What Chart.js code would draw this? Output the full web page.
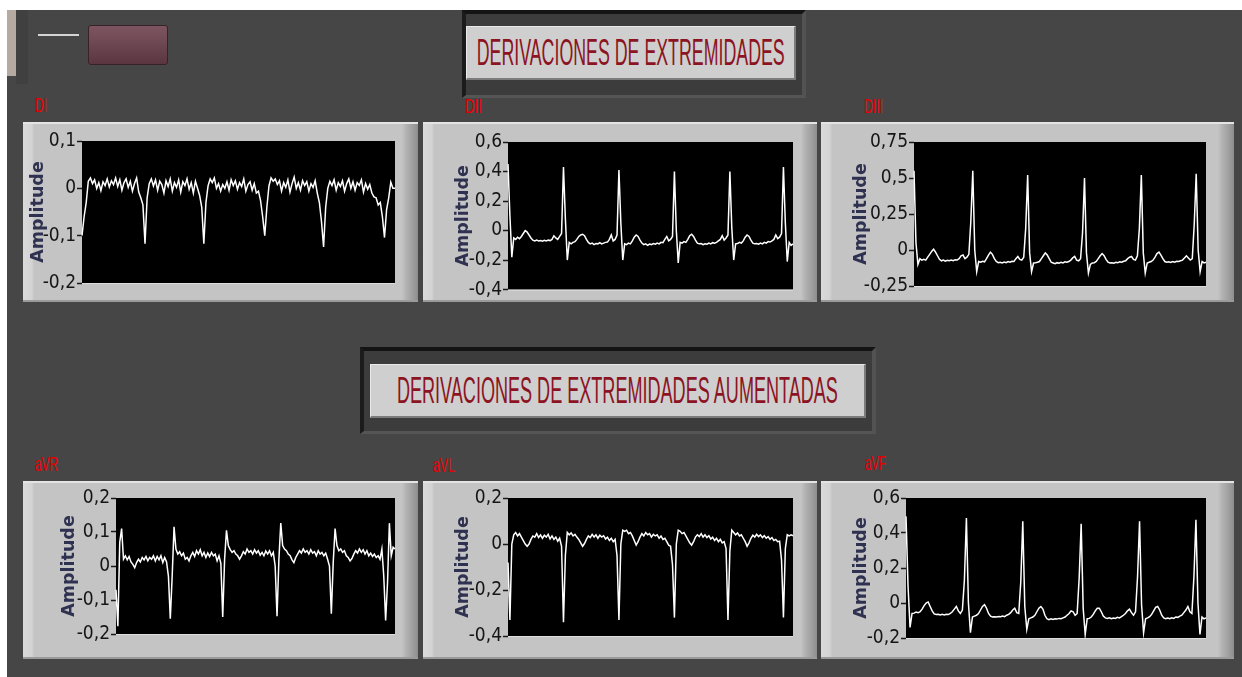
<!DOCTYPE html>
<html>
<head>
<meta charset="utf-8">
<script src="https://cdn.jsdelivr.net/npm/chart.js@4.4.0/dist/chart.umd.min.js"></script>
<style>
  html, body { margin: 0; padding: 0; }
  body { width: 1242px; height: 677px; background: #fff; position: relative; overflow: hidden;
         font-family: 'Liberation Sans', Arial, sans-serif; }
  .abs { position: absolute; }
  #bg { left: 7px; top: 10px; right: 0; bottom: 0; background: #464646; }
  .frame { box-sizing: border-box; background: #3c3c3c;
           border-top: 4px solid #141414; border-left: 4px solid #1b1b1b;
           border-right: 4px solid #525252; border-bottom: 3px solid #555; }
  .tbox { box-sizing: border-box; background: #cfcfcf; display: flex; align-items: center; justify-content: center;
          border-top: 1px solid #e9e9e9; border-left: 1px solid #e9e9e9;
          border-right: 2px solid #7c7c7c; border-bottom: 2px solid #7c7c7c; }
  .ttxt { display: inline-block; white-space: nowrap; color: #8c1422; font-size: 36px; transform-origin: center; }
  .lbl { display: inline-block; white-space: nowrap; color: #e80000; font-size: 21px; line-height: 21px; transform-origin: left; }
  .gpanel { box-sizing: border-box;
    background: linear-gradient(to right, #dadada 0px, #d3d3d3 9px, #c4c4c4 11px, #c4c4c4 calc(100% - 16px),
                #b3b3b3 calc(100% - 12px), #9b9b9b calc(100% - 4px), #8d8d8d 100%);
    box-shadow: inset 0 2px 0 #e4e4e4, inset 0 -2px 0 #9a9a9a; }
  canvas { position: absolute; }
</style>
</head>
<body>
<div id="bg" class="abs"></div>
<!-- control arriba a la izquierda -->
<div class="abs" style="left:16px;top:10px;width:12px;height:74px;background:#404040"></div>
<div class="abs" style="left:7px;top:10px;width:9px;height:66px;background:#b4aaa1"></div>
<div class="abs" style="left:38px;top:34px;width:41px;height:2px;background:#d4d4d4"></div>
<div class="abs" style="left:88px;top:25px;width:80px;height:40px;box-sizing:border-box;border-radius:3px;
     border:1px solid #3a2028;background:linear-gradient(#7d5560,#6a4550 55%,#5a3641)"></div>

<div class="abs frame" style="left:462px;top:10px;width:344px;height:88px"></div>
<div class="abs tbox" style="left:466px;top:26px;width:330px;height:54px">
  <span class="ttxt" data-w="308">DERIVACIONES DE EXTREMIDADES</span>
</div>
<div class="abs frame" style="left:360px;top:347px;width:516px;height:87px"></div>
<div class="abs tbox" style="left:370px;top:364px;width:496px;height:54px">
  <span class="ttxt" data-w="441">DERIVACIONES DE EXTREMIDADES AUMENTADAS</span>
</div>

<span class="abs lbl" style="left:35px;top:94px" data-w="12">DI</span>
<span class="abs lbl" style="left:465px;top:95px" data-w="17">DII</span>
<span class="abs lbl" style="left:864px;top:95px" data-w="19">DIII</span>
<span class="abs lbl" style="left:35px;top:453px" data-w="23">aVR</span>
<span class="abs lbl" style="left:433px;top:454px" data-w="22">aVL</span>
<span class="abs lbl" style="left:865px;top:452px" data-w="21">aVF</span>

<canvas id="c_DI"></canvas>
<canvas id="c_DII"></canvas>
<canvas id="c_DIII"></canvas>
<canvas id="c_aVR"></canvas>
<canvas id="c_aVL"></canvas>
<canvas id="c_aVF"></canvas>

<script>
const DI = [
  -0.10,-0.06,-0.03,0.015,0.022,0.01,0.018,0.0,0.012,-0.005,
  0.014,0.006,0.02,0.003,0.016,0.008,0.022,0.004,0.018,-0.004,
  0.012,0.02,0.002,0.015,-0.006,0.01,0.022,-0.008,-0.02,-0.035,
  -0.117,-0.02,0.01,0.02,0.005,0.018,-0.004,0.015,0.008,-0.01,
  0.016,0.004,0.02,-0.006,0.012,0.002,0.018,-0.008,0.014,0.006,
  0.02,-0.002,0.012,-0.01,0.015,0.0,-0.015,-0.04,-0.117,-0.03,
  0.005,0.02,0.012,0.022,0.0,0.01,-0.006,0.008,0.0,0.014,
  -0.004,0.018,0.006,0.016,-0.002,0.012,0.004,0.02,-0.006,0.008,
  0.014,-0.004,0.01,-0.01,-0.006,-0.026,-0.06,-0.10,-0.04,0.005,
  0.022,0.015,0.02,0.008,0.016,-0.006,0.012,0.002,0.018,-0.008,
  0.01,0.024,0.0,0.012,-0.004,0.016,0.006,0.014,-0.006,0.01,
  0.002,0.016,-0.01,-0.03,-0.07,-0.124,-0.04,0.0,0.015,0.006,
  0.018,-0.004,0.012,0.004,0.016,-0.006,0.01,0.02,0.0,0.014,
  -0.004,0.012,0.006,0.018,-0.008,0.01,-0.002,0.008,-0.01,-0.018,
  -0.02,-0.035,-0.03,-0.06,-0.104,-0.045,-0.02,0.013,0.0,0.0
];
const DII = [
  0.45,0.10,-0.18,-0.05,-0.06,-0.045,-0.055,-0.04,-0.02,0.0,
  -0.01,-0.03,-0.05,-0.065,-0.07,-0.065,-0.07,-0.068,-0.072,-0.066,
  -0.07,-0.065,-0.068,-0.06,-0.035,-0.05,-0.06,-0.04,-0.02,0.43,
  0.08,-0.2,-0.08,-0.09,-0.08,-0.075,-0.06,-0.04,-0.03,-0.025,
  -0.035,-0.06,-0.08,-0.09,-0.085,-0.095,-0.088,-0.09,-0.082,-0.09,
  -0.085,-0.08,-0.078,-0.06,-0.03,-0.07,-0.06,-0.03,0.41,0.05,
  -0.2,-0.09,-0.095,-0.085,-0.09,-0.07,-0.045,-0.03,-0.04,-0.065,
  -0.085,-0.095,-0.09,-0.1,-0.092,-0.095,-0.088,-0.092,-0.085,-0.09,
  -0.08,-0.082,-0.06,-0.04,-0.07,-0.06,-0.04,0.40,0.0,-0.22,
  -0.08,-0.085,-0.075,-0.08,-0.06,-0.035,-0.025,-0.04,-0.065,-0.085,
  -0.09,-0.088,-0.095,-0.09,-0.092,-0.085,-0.09,-0.082,-0.085,-0.08,
  -0.07,-0.06,-0.035,-0.065,-0.05,-0.03,0.40,0.02,-0.2,-0.09,
  -0.088,-0.08,-0.085,-0.07,-0.045,-0.03,-0.04,-0.065,-0.085,-0.09,
  -0.088,-0.092,-0.085,-0.09,-0.08,-0.085,-0.075,-0.078,-0.07,-0.06,
  -0.03,-0.055,-0.045,-0.02,0.43,0.05,-0.21,-0.08,-0.1,-0.09
];
const DIII = [
  0.55,0.05,-0.1,-0.06,-0.07,-0.065,-0.07,-0.05,-0.03,-0.01,
  0.005,-0.015,-0.04,-0.065,-0.075,-0.07,-0.078,-0.072,-0.075,-0.07,
  -0.074,-0.068,-0.07,-0.06,-0.04,-0.035,-0.06,-0.05,-0.03,0.20,
  0.55,0.0,-0.15,-0.08,-0.085,-0.078,-0.082,-0.06,-0.035,-0.015,
  -0.03,-0.06,-0.08,-0.088,-0.085,-0.09,-0.084,-0.088,-0.08,-0.085,
  -0.078,-0.08,-0.06,-0.045,-0.065,-0.07,-0.05,0.15,0.52,-0.02,
  -0.15,-0.09,-0.088,-0.085,-0.08,-0.06,-0.04,-0.02,-0.035,-0.06,
  -0.085,-0.09,-0.095,-0.088,-0.092,-0.086,-0.09,-0.082,-0.085,-0.08,
  -0.07,-0.055,-0.045,-0.07,-0.075,-0.06,0.12,0.50,-0.02,-0.16,
  -0.1,-0.09,-0.088,-0.08,-0.06,-0.04,-0.025,-0.04,-0.065,-0.085,
  -0.09,-0.088,-0.092,-0.085,-0.088,-0.082,-0.085,-0.078,-0.075,-0.06,
  -0.05,-0.045,-0.065,-0.07,-0.04,0.15,0.52,-0.02,-0.16,-0.09,
  -0.085,-0.08,-0.07,-0.05,-0.025,-0.015,-0.035,-0.06,-0.08,-0.085,
  -0.082,-0.086,-0.08,-0.084,-0.078,-0.08,-0.075,-0.07,-0.055,-0.04,
  -0.055,-0.07,-0.06,0.18,0.53,0.0,-0.15,-0.08,-0.09,-0.085
];
// derivaciones aumentadas
const aVR = [
  -0.07,-0.177,0.07,0.11,0.02,0.03,0.018,0.028,0.012,0.005,
  -0.005,0.01,0.02,0.012,0.025,0.018,0.028,0.015,0.025,0.02,
  0.03,0.015,0.028,0.018,0.03,0.01,0.025,0.012,-0.03,-0.155,
  -0.03,0.115,0.05,0.035,0.042,0.03,0.038,0.02,0.025,0.015,
  0.03,0.04,0.028,0.045,0.035,0.048,0.03,0.04,0.025,0.038,
  0.028,0.04,0.03,0.035,0.015,0.03,0.008,-0.15,0.02,0.105,
  0.06,0.048,0.04,0.045,0.035,0.03,0.02,0.03,0.042,0.035,
  0.05,0.04,0.045,0.035,0.048,0.038,0.045,0.032,0.04,0.03,
  0.044,0.035,0.045,0.03,0.04,0.0,-0.148,0.02,0.126,0.06,
  0.05,0.045,0.035,0.03,0.018,0.01,0.025,0.035,0.045,0.038,
  0.05,0.04,0.045,0.035,0.048,0.038,0.042,0.03,0.045,0.035,
  0.04,0.03,0.038,0.02,0.0,-0.14,0.01,0.11,0.06,0.045,
  0.05,0.04,0.045,0.03,0.025,0.015,0.022,0.035,0.045,0.038,
  0.05,0.04,0.048,0.035,0.045,0.03,0.038,0.028,0.035,0.025,
  0.03,0.02,0.05,-0.03,-0.16,-0.05,0.126,0.03,0.055,0.05
];
const aVL = [
  -0.08,-0.33,0.0,0.04,0.05,0.035,0.045,0.03,0.015,0.0,
  -0.01,0.0,0.02,0.035,0.03,0.045,0.028,0.04,0.025,0.038,
  0.03,0.042,0.022,0.035,0.02,0.03,0.012,0.025,-0.01,-0.34,
  -0.05,0.05,0.04,0.048,0.035,0.042,0.03,0.02,0.005,-0.01,
  0.002,0.02,0.035,0.028,0.042,0.03,0.04,0.025,0.038,0.03,
  0.036,0.022,0.03,0.015,0.025,0.01,0.02,-0.05,-0.33,0.0,
  0.06,0.055,0.06,0.045,0.05,0.035,0.015,-0.005,0.01,0.03,
  0.045,0.035,0.05,0.04,0.045,0.03,0.042,0.035,0.04,0.025,
  0.035,0.02,0.025,0.01,-0.005,-0.01,-0.09,-0.32,0.0,0.06,
  0.055,0.045,0.05,0.035,0.02,0.005,-0.005,0.01,0.03,0.04,
  0.032,0.045,0.03,0.04,0.028,0.036,0.022,0.03,0.015,0.025,
  0.01,0.02,0.005,0.01,-0.02,-0.33,-0.03,0.06,0.05,0.04,
  0.048,0.035,0.04,0.025,0.01,-0.01,0.005,0.025,0.038,0.03,
  0.042,0.032,0.04,0.028,0.036,0.025,0.032,0.02,0.028,0.015,
  0.02,0.01,0.012,-0.07,-0.32,-0.02,0.04,0.035,0.04,0.036
];
const aVF = [
  0.495,0.10,-0.14,-0.06,-0.058,-0.052,-0.056,-0.05,-0.035,-0.015,
  0.0,0.006,-0.02,-0.045,-0.062,-0.066,-0.064,-0.068,-0.065,-0.068,
  -0.064,-0.066,-0.06,-0.05,-0.035,-0.02,-0.045,-0.06,-0.04,0.13,
  0.486,0.0,-0.17,-0.08,-0.075,-0.07,-0.06,-0.04,-0.02,-0.01,
  -0.03,-0.06,-0.075,-0.08,-0.078,-0.08,-0.077,-0.079,-0.075,-0.078,
  -0.07,-0.065,-0.055,-0.04,-0.03,-0.055,-0.06,0.12,0.467,-0.02,
  -0.15,-0.09,-0.085,-0.08,-0.07,-0.05,-0.03,-0.02,-0.035,-0.07,
  -0.09,-0.095,-0.09,-0.094,-0.09,-0.092,-0.088,-0.09,-0.085,-0.08,
  -0.07,-0.06,-0.045,-0.05,-0.07,-0.06,0.14,0.453,-0.03,-0.18,
  -0.09,-0.088,-0.08,-0.065,-0.045,-0.03,-0.03,-0.05,-0.075,-0.085,
  -0.088,-0.085,-0.09,-0.086,-0.088,-0.082,-0.085,-0.078,-0.07,-0.06,
  -0.045,-0.035,-0.055,-0.07,-0.05,0.15,0.467,-0.01,-0.17,-0.09,
  -0.085,-0.078,-0.065,-0.045,-0.025,-0.02,-0.04,-0.07,-0.085,-0.09,
  -0.086,-0.09,-0.085,-0.088,-0.08,-0.082,-0.075,-0.07,-0.055,-0.04,
  -0.02,-0.05,-0.06,0.15,0.476,0.0,-0.18,-0.08,-0.09,-0.085
];

// escalas Y de cada grafica
const DI_TICKS   = [-0.2, -0.1, 0, 0.1];
const DII_TICKS  = [-0.4, -0.2, 0, 0.2, 0.4, 0.6];
const DIII_TICKS = [-0.25, 0, 0.25, 0.5, 0.75];
const aVR_TICKS  = [-0.2, -0.1, 0, 0.1, 0.2];
const aVL_TICKS  = [-0.4, -0.2, 0, 0.2];
const aVF_TICKS  = [-0.2, 0, 0.2, 0.4, 0.6];

// posicion de cada panel (p*) y del area negra (l,t,r,b); tx = centro del titulo
const boxes = {
  c_DI:   { px: 23,  py: 122, pw: 395, ph: 180, l: 82,  t: 141, r: 395,  b: 283, tx: 15 },
  c_DII:  { px: 423, py: 122, pw: 394, ph: 180, l: 508, t: 142, r: 793,  b: 290, tx: 40 },
  c_DIII: { px: 821, py: 122, pw: 413, ph: 180, l: 914, t: 142, r: 1206, b: 286, tx: 40 },
  c_aVR:  { px: 23,  py: 481, pw: 395, ph: 178, l: 116, t: 498, r: 395,  b: 634, tx: 46 },
  c_aVL:  { px: 423, py: 481, pw: 394, ph: 178, l: 508, t: 498, r: 793,  b: 636, tx: 40 },
  c_aVF:  { px: 821, py: 481, pw: 413, ph: 178, l: 906, t: 498, r: 1206, b: 638, tx: 40 }
};

const plotBg = {
  id: 'plotBg',
  beforeDraw(chart) {
    const { ctx, chartArea: a } = chart;
    ctx.save();
    ctx.fillStyle = '#000';
    ctx.fillRect(a.left, a.top, a.right - a.left, a.bottom - a.top);
    ctx.fillStyle = '#dedede';
    ctx.fillRect(a.left, a.bottom, a.right - a.left, 1);
    ctx.restore();
  }
};

function fmt(v) {
  return String(Math.round(v * 100) / 100).replace('.', ',');
}

function drawLead(id, values, ticks) {
  const b = boxes[id];
  const panel = document.createElement('div');
  panel.className = 'abs gpanel';
  panel.style.cssText += `left:${b.px}px;top:${b.py}px;width:${b.pw}px;height:${b.ph}px;`;
  document.body.insertBefore(panel, document.getElementById('c_DI'));

  const cv = document.getElementById(id);
  cv.width = b.pw; cv.height = b.ph;
  cv.style.left = b.px + 'px'; cv.style.top = b.py + 'px';

  return new Chart(cv, {
    type: 'line',
    data: {
      labels: values.map((v, i) => i),
      datasets: [{
        data: values,
        borderColor: '#ffffff',
        borderWidth: 1.5,
        pointRadius: 0,
        tension: 0,
        fill: false
      }]
    },
    options: {
      responsive: false,
      animation: false,
      layout: { padding: { left: 0, top: b.t - b.py, right: b.px + b.pw - b.r, bottom: b.py + b.ph - b.b } },
      plugins: { legend: { display: false }, tooltip: { enabled: false } },
      scales: {
        x: { display: false },
        y: {
          min: ticks[0],
          max: ticks[ticks.length - 1],
          afterBuildTicks: s => { s.ticks = ticks.map(v => ({ value: v })); },
          afterFit: s => { s.width = b.l - b.px; },
          border: { display: false },
          grid: { drawOnChartArea: false, drawTicks: true, tickLength: 5, tickColor: '#1a1a1a', tickWidth: 1.5 },
          ticks: {
            color: '#151515',
            padding: 1,
            font: { family: "'Liberation Sans Narrow', 'DejaVu Sans Condensed', 'Liberation Sans', sans-serif", size: 19 },
            callback: v => fmt(v)
          },
          title: {
            display: true,
            text: 'Amplitude',
            color: '#2f3150',
            font: { family: "'DejaVu Sans', sans-serif", size: 17.5, weight: 'bold' },
            padding: { top: b.tx - 10.5, bottom: 0 }
          }
        }
      }
    },
    plugins: [plotBg]
  });
}

drawLead('c_DI', DI, DI_TICKS);
drawLead('c_DII', DII, DII_TICKS);
drawLead('c_DIII', DIII, DIII_TICKS);
drawLead('c_aVR', aVR, aVR_TICKS);
drawLead('c_aVL', aVL, aVL_TICKS);
drawLead('c_aVF', aVF, aVF_TICKS);

// textos estrechos como en LabVIEW
document.querySelectorAll('[data-w]').forEach(el => {
  const w = el.getBoundingClientRect().width;
  el.style.transform = 'scaleX(' + (el.dataset.w / w) + ')';
});
</script>
</body>
</html>
